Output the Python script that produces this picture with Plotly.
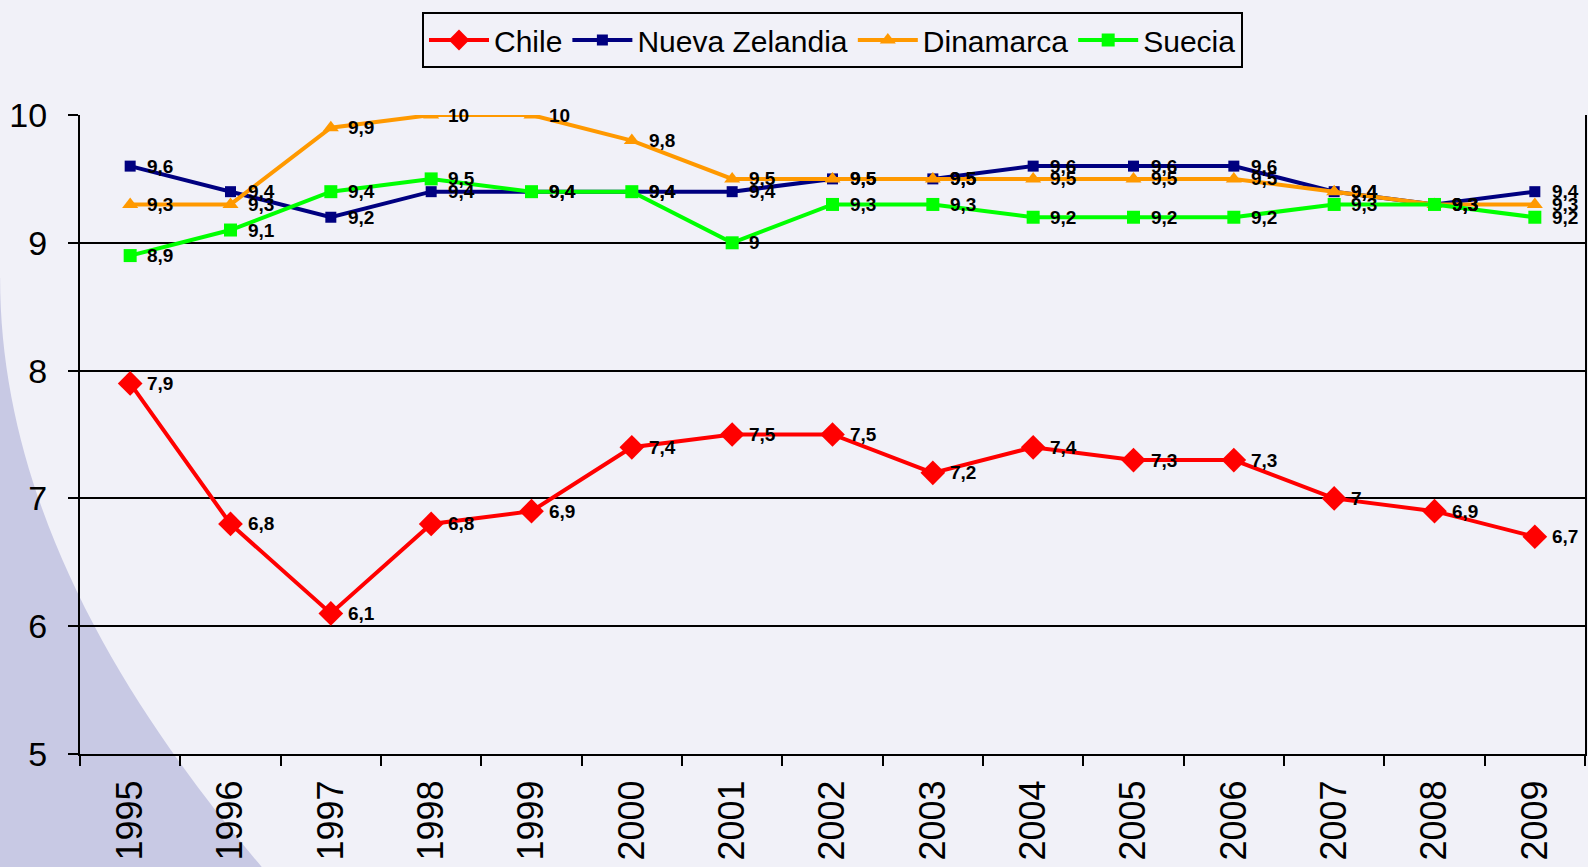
import plotly.graph_objects as go

years = [str(y) for y in range(1995, 2010)]
chile = [7.9, 6.8, 6.1, 6.8, 6.9, 7.4, 7.5, 7.5, 7.2, 7.4, 7.3, 7.3, 7.0, 6.9, 6.7]
nueva_zelandia = [9.6, 9.4, 9.2, 9.4, 9.4, 9.4, 9.4, 9.5, 9.5, 9.6, 9.6, 9.6, 9.4, 9.3, 9.4]
dinamarca = [9.3, 9.3, 9.9, 10, 10, 9.8, 9.5, 9.5, 9.5, 9.5, 9.5, 9.5, 9.4, 9.3, 9.3]
suecia = [8.9, 9.1, 9.4, 9.5, 9.4, 9.4, 9.0, 9.3, 9.3, 9.2, 9.2, 9.2, 9.3, 9.3, 9.2]

W, H = 1588, 867
ML, MR, MT, MB = 80, 1, 115, 113
PW, PH = W - ML - MR, H - MT - MB
BG = "#F1F1F8"
FONT = "Arial, Liberation Sans, sans-serif"

series = [
    ("Chile", chile, "#FF0000", "diamond", 19),
    ("Nueva Zelandia", nueva_zelandia, "#000080", "square", 11),
    ("Dinamarca", dinamarca, "#FF9900", "triangle-up", 14),
    ("Suecia", suecia, "#00FF00", "square", 13),
]

fig = go.Figure()
annotations = []
for name, vals, color, sym, ms in series:
    fig.add_trace(go.Scatter(
        x=years, y=vals, name=name, mode="lines+markers",
        line=dict(color=color, width=4),
        marker=dict(symbol=sym, size=ms, color=color),
    ))
    for i, v in enumerate(vals):
        annotations.append(dict(
            x=i, y=v, text=f"{v:g}".replace(".", ","), showarrow=False,
            xanchor="left", yanchor="middle", xshift=15,
            font=dict(family=FONT, size=19, color="black", weight="bold"),
        ))

def px2paper(px, py):
    return (px - ML) / PW, (H - MB - py) / PH

pts = [(0, 278), (0, 500), (120, 700), (262, 867)]
p = [px2paper(*q) for q in pts]
e1 = px2paper(300, 900)
e2 = px2paper(-10, 900)
e3 = px2paper(-10, 278)
path = (f"M {p[0][0]},{p[0][1]} C {p[1][0]},{p[1][1]} {p[2][0]},{p[2][1]} {p[3][0]},{p[3][1]} "
        f"L {e1[0]},{e1[1]} L {e2[0]},{e2[1]} L {e3[0]},{e3[1]} Z")

fig.update_layout(
    width=W, height=H,
    margin=dict(l=ML, r=MR, t=MT, b=MB),
    paper_bgcolor=BG, plot_bgcolor="rgba(0,0,0,0)",
    font=dict(family=FONT, color="black"),
    shapes=[dict(type="path", path=path, xref="paper", yref="paper",
                 fillcolor="#C8C9E4", line=dict(width=0), layer="below")],
    annotations=annotations,
    legend=dict(orientation="h", x=0.5, xanchor="center", y=(H - MB - 12) / PH, yanchor="top",
                bgcolor=BG, bordercolor="black", borderwidth=2,
                font=dict(family=FONT, size=30, color="black"),
                itemwidth=60, tracegroupgap=0),
    showlegend=True,
)
fig.update_xaxes(
    type="category", range=[-0.5, 14.5], tickangle=-90, showgrid=False,
    showline=True, linecolor="black", linewidth=2,
    ticks="outside", tickson="boundaries", ticklen=10, tickwidth=2, tickcolor="black",
    tickfont=dict(family=FONT, size=36, color="black"), ticklabelstandoff=10,
)
fig.update_yaxes(
    range=[5, 10], dtick=1, showgrid=True, gridcolor="black", gridwidth=1.5,
    showline=True, linecolor="black", linewidth=2, mirror=True, zeroline=False,
    ticks="outside", ticklen=10, tickwidth=2, tickcolor="black",
    tickfont=dict(family=FONT, size=34, color="black"), ticklabelstandoff=14,
)
fig.write_html("out.html", config={"displayModeBar": False},
               post_script="document.body.style.margin='0';document.body.style.background='%s';" % BG)
